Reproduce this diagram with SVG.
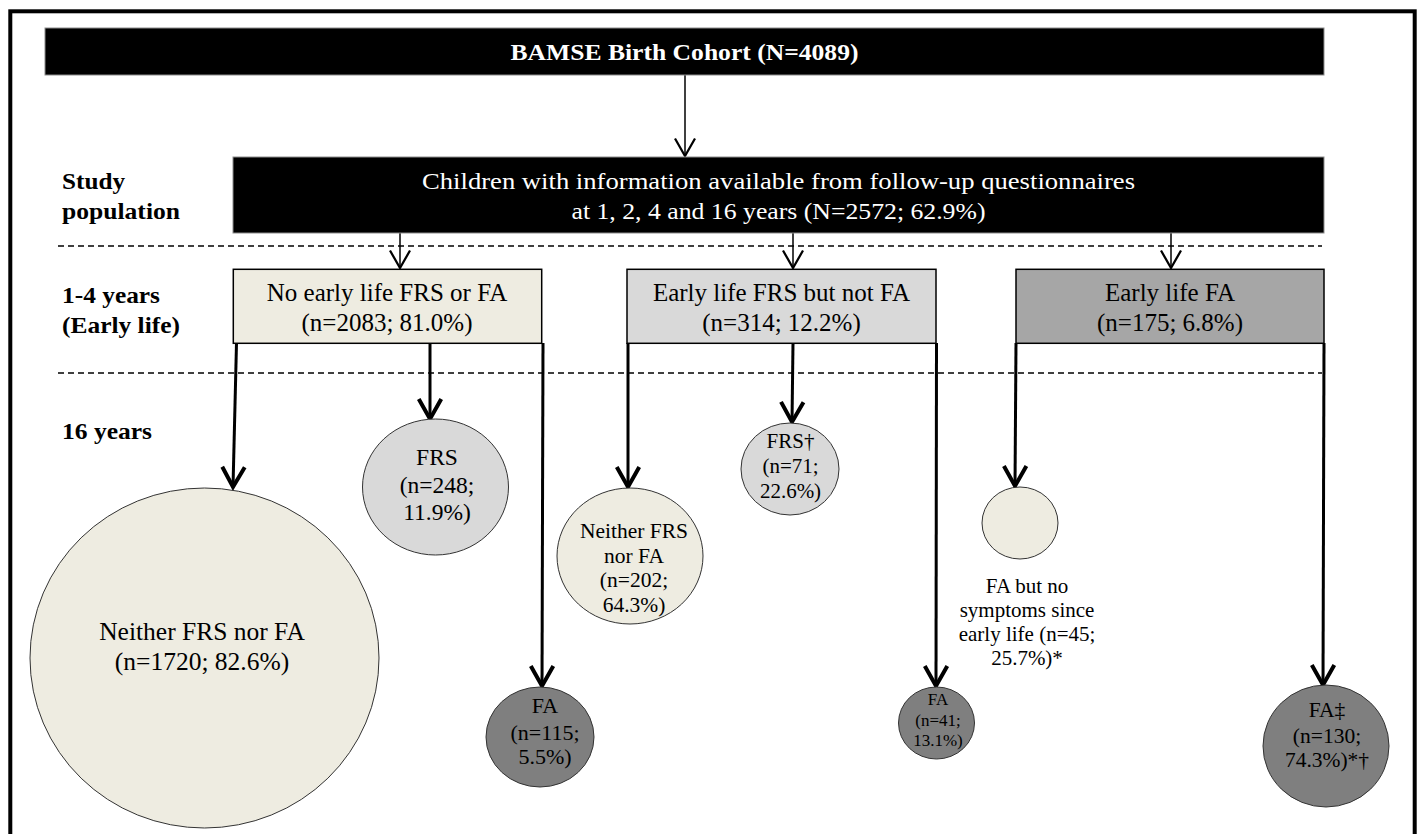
<svg xmlns="http://www.w3.org/2000/svg" width="1419" height="834" viewBox="0 0 1419 834">
<style>
text{font-family:"Liberation Serif","Times New Roman",serif;fill:#000;text-anchor:middle}
.lbl{font-weight:bold;font-size:24px;text-anchor:start}
.hdr{fill:#fff;font-size:24px}
.bt{font-size:25px}
.box{stroke:#000;stroke-width:1.5}
.blk{fill:#000;stroke:#8c8c8c;stroke-width:1}
.cir{stroke:#333;stroke-width:1}
.beige{fill:#eeece1}.lg{fill:#d9d9d9}.mg{fill:#a6a6a6}.dg{fill:#7f7f7f}
.dash{stroke:#000;stroke-width:1.5;stroke-dasharray:6 4;fill:none}
.thin{stroke:#000;stroke-width:1.5;fill:none;marker-end:url(#ah)}
.thick{stroke:#000;stroke-width:3;fill:none;marker-end:url(#ahb)}
</style>
<defs>
<marker id="ah" markerUnits="userSpaceOnUse" orient="auto" refX="0" refY="0" markerWidth="30" markerHeight="30" viewBox="-20 -12 24 24" overflow="visible">
<path d="M-14,-8 L0,0 L-14,8" fill="none" stroke="#000" stroke-width="1.8"/>
</marker>
<marker id="ahb" markerUnits="userSpaceOnUse" orient="auto" refX="0" refY="0" markerWidth="30" markerHeight="30" viewBox="-20 -12 24 24" overflow="visible">
<path d="M-16,-9 L0,0 L-16,9" fill="none" stroke="#000" stroke-width="3.2"/>
</marker>
</defs>
<rect x="0" y="0" width="1419" height="834" fill="#fff"/>
<rect id="frame" x="10.3" y="11.3" width="1404.4" height="900" fill="none" stroke="#000" stroke-width="4"/>

<g id="labels">
<text class="lbl" x="62" y="189" textLength="63" lengthAdjust="spacingAndGlyphs">Study</text>
<text class="lbl" x="62" y="219" textLength="118" lengthAdjust="spacingAndGlyphs">population</text>
<text class="lbl" x="62" y="303" textLength="98" lengthAdjust="spacingAndGlyphs">1-4 years</text>
<text class="lbl" x="62" y="333" textLength="118" lengthAdjust="spacingAndGlyphs">(Early life)</text>
<text class="lbl" x="62" y="439" textLength="90" lengthAdjust="spacingAndGlyphs">16 years</text>
</g>

<g id="dividers">
<line class="dash" x1="58" y1="246" x2="1322" y2="246"/>
<line class="dash" x1="58" y1="373" x2="1322" y2="373"/>
</g>

<g id="connectors">
<line class="thin" x1="685" y1="75" x2="685" y2="156"/>
<line class="thin" x1="400" y1="233" x2="400" y2="268"/>
<line class="thin" x1="793" y1="233" x2="793" y2="268"/>
<line class="thin" x1="1171" y1="233" x2="1171" y2="268"/>
<line class="thick" x1="236.5" y1="343" x2="233" y2="487"/>
<line class="thick" x1="430" y1="343" x2="430" y2="419"/>
<line class="thick" x1="543" y1="343" x2="542" y2="686"/>
<line class="thick" x1="628" y1="343" x2="628" y2="487"/>
<line class="thick" x1="793" y1="343" x2="792" y2="422"/>
<line class="thick" x1="936.5" y1="343" x2="936" y2="686"/>
<line class="thick" x1="1016" y1="343" x2="1015" y2="486"/>
<line class="thick" x1="1324" y1="343" x2="1323" y2="685"/>
</g>

<g id="bamse">
<rect class="blk" x="45" y="28" width="1279" height="47"/>
<text class="hdr" x="684.5" y="60" font-weight="bold" textLength="348" lengthAdjust="spacingAndGlyphs">BAMSE Birth Cohort (N=4089)</text>
</g>

<g id="study">
<rect class="blk" x="233" y="157" width="1091" height="76"/>
<text class="hdr" x="778.5" y="189" textLength="713" lengthAdjust="spacingAndGlyphs">Children with information available from follow-up questionnaires</text>
<text class="hdr" x="778.5" y="219" textLength="414" lengthAdjust="spacingAndGlyphs">at 1, 2, 4 and 16 years (N=2572; 62.9%)</text>
</g>

<g id="box1">
<rect class="box beige" x="233.3" y="269.3" width="308.4" height="74"/>
<text class="bt" x="387" y="301">No early life FRS or FA</text>
<text class="bt" x="387" y="331">(n=2083; 81.0%)</text>
</g>

<g id="box2">
<rect class="box lg" x="627" y="269.3" width="309" height="74"/>
<text class="bt" x="781.5" y="301">Early life FRS but not FA</text>
<text class="bt" x="781.5" y="331">(n=314; 12.2%)</text>
</g>

<g id="box3">
<rect class="box mg" x="1016" y="269.3" width="308" height="74"/>
<text class="bt" x="1170" y="301">Early life FA</text>
<text class="bt" x="1170" y="331">(n=175; 6.8%)</text>
</g>

<g id="c1">
<ellipse class="cir beige" cx="204.5" cy="658" rx="174.5" ry="170"/>
<text x="202" y="640" font-size="25.5">Neither FRS nor FA</text>
<text x="202" y="670" font-size="25.5">(n=1720; 82.6%)</text>
</g>

<g id="c2">
<ellipse class="cir lg" cx="435.5" cy="487" rx="73" ry="68"/>
<text x="437" y="465" font-size="23.5">FRS</text>
<text x="437" y="493" font-size="23.5">(n=248;</text>
<text x="437" y="520" font-size="23.5">11.9%)</text>
</g>

<g id="c3">
<ellipse class="cir dg" cx="540" cy="737" rx="54" ry="50"/>
<text x="545" y="713" font-size="22">FA</text>
<text x="545" y="740" font-size="22">(n=115;</text>
<text x="545" y="764" font-size="22">5.5%)</text>
</g>

<g id="c4">
<ellipse class="cir beige" cx="630" cy="556" rx="73" ry="68"/>
<text x="634" y="538" font-size="21.5">Neither FRS</text>
<text x="634" y="563" font-size="21.5">nor FA</text>
<text x="634" y="587" font-size="21.5">(n=202;</text>
<text x="634" y="612" font-size="21.5">64.3%)</text>
</g>

<g id="c5">
<ellipse class="cir lg" cx="790" cy="469" rx="49" ry="46"/>
<text x="790.5" y="448" font-size="21">FRS†</text>
<text x="790.5" y="473" font-size="21">(n=71;</text>
<text x="790.5" y="498" font-size="21">22.6%)</text>
</g>

<g id="c6">
<ellipse class="cir dg" cx="936.5" cy="723" rx="38" ry="36"/>
<text x="938" y="705" font-size="17">FA</text>
<text x="938" y="726" font-size="17">(n=41;</text>
<text x="938" y="746" font-size="17">13.1%)</text>
</g>

<g id="c7">
<ellipse class="cir beige" cx="1020" cy="523" rx="38" ry="36"/>
<text x="1027" y="593" font-size="21">FA but no</text>
<text x="1027" y="617" font-size="21">symptoms since</text>
<text x="1027" y="641" font-size="21">early life (n=45;</text>
<text x="1027" y="665" font-size="21">25.7%)*</text>
</g>

<g id="c8">
<ellipse class="cir dg" cx="1326" cy="746" rx="63" ry="61"/>
<text x="1327" y="717" font-size="21.5">FA‡</text>
<text x="1327" y="743" font-size="21.5">(n=130;</text>
<text x="1327" y="767" font-size="21.5">74.3%)*†</text>
</g>
</svg>
